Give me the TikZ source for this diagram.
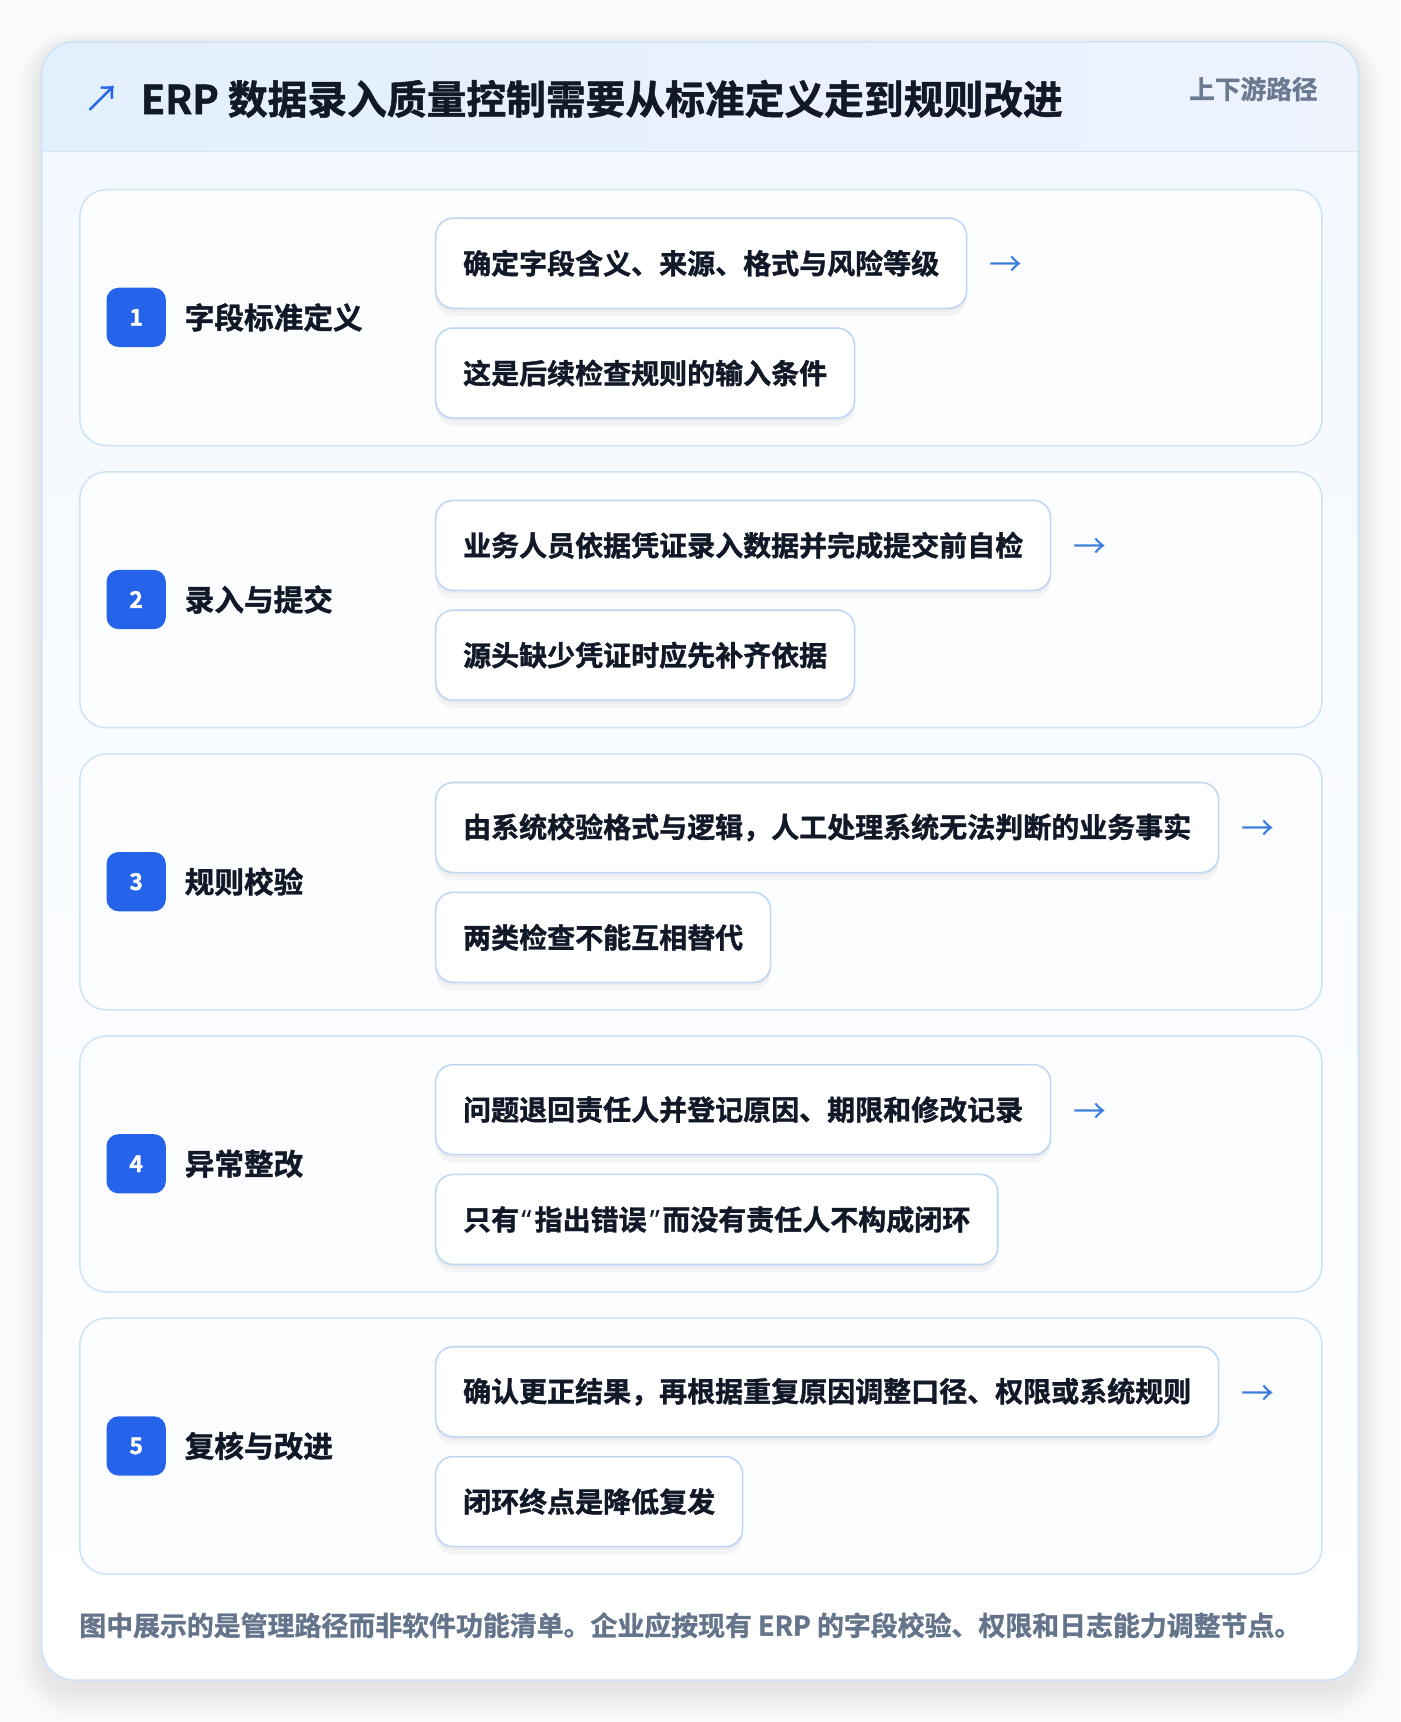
\documentclass[tikz,border=0pt]{standalone}
\usepackage{fontspec}
\setmainfont{Noto Sans CJK SC}[BoldFont={Noto Sans CJK SC Bold}, BoldFeatures={FakeBold=1.2}]
\newfontfamily\quotefont{Noto Sans}[BoldFeatures={FakeBold=1.2}]
\newfontfamily\arrowfont{Noto Sans CJK SC}
\usetikzlibrary{arrows.meta,shadows}
\definecolor{pagebg}{HTML}{FAFAFA}
\definecolor{cardline}{HTML}{CFE3F6}
\definecolor{boxline}{HTML}{BDD6F4}
\definecolor{hdrL}{HTML}{E2EFFD}
\definecolor{hdrR}{HTML}{EEF3FE}
\definecolor{hdrline}{HTML}{D3E5F7}
\definecolor{bodyT}{HTML}{F4F9FF}
\definecolor{cardfill}{HTML}{FBFDFF}
\definecolor{badgeblue}{HTML}{2563EB}
\definecolor{arrowblue}{HTML}{3B7DDD}
\definecolor{darktext}{HTML}{111827}
\definecolor{graytext}{HTML}{64748B}
\definecolor{graytwo}{HTML}{6B7A90}
\newcommand\myLq{\kern2pt{\quotefont\bfseries “}\kern3pt}
\newcommand\myRq{\kern3pt{\quotefont\bfseries ”}\kern2pt}
\tikzset{
  card/.style={draw=cardline, line width=1.4pt, fill=cardfill, rounded corners=24pt,
    minimum width=1131pt, minimum height=233pt, anchor=north west, inner sep=0pt},
  badge/.style={fill=badgeblue, rounded corners=11pt, minimum width=54pt, minimum height=54pt,
    inner sep=0pt, text=white, font=\fontsize{21}{21}\selectfont\bfseries},
  steptitle/.style={anchor=west, text=darktext, inner sep=0pt, font=\fontsize{27}{30}\selectfont\bfseries},
  pointbox/.style={draw=boxline, line width=1.4pt, fill=white, rounded corners=16pt,
    minimum height=82pt, inner xsep=25pt, inner ysep=0pt, anchor=north west, text=darktext,
    font=\fontsize{25.5}{28}\selectfont\bfseries,
    drop shadow={shadow xshift=0pt, shadow yshift=-7pt, opacity=0.035, fill=black},
    drop shadow={shadow xshift=0pt, shadow yshift=-3pt, opacity=0.03, fill=black}},
  nextarrow/.style={anchor=west, text=arrowblue, inner sep=0pt, font=\fontsize{30}{30}\arrowfont},
}
\begin{document}
\begin{tikzpicture}[x=1pt,y=-1pt]
\useasboundingbox (0,0) rectangle (1274.8,1568);
\fill[pagebg] (0,0) rectangle (1274.8,1568);
% outer shadow
\foreach \i in {1,...,10}
  \fill[black, opacity=0.008, rounded corners={(30+2*\i)*1pt}]
    (38-2*\i, 44-1.5*\i) rectangle (1237+2*\i, 1538+2.5*\i);
% outer card
\fill[white, rounded corners=30pt] (38,38) rectangle (1237,1530);
\begin{scope}
  \clip[rounded corners=30pt] (38,38) rectangle (1237,1530);
  \shade[left color=hdrL, right color=hdrR] (38,38) rectangle (1237,138);
  \shade[top color=bodyT, bottom color=white] (38,138) rectangle (1237,1530);
\end{scope}
\coordinate (hl) at (38,138);
\coordinate (hr) at (1237,138);
\draw[hdrline, line width=1.4pt] (hl) -- (hr);
\draw[cardline, line width=1.6pt, rounded corners=30pt] (38,38) rectangle (1237,1530);
% title
\node[anchor=center, text=badgeblue, inner sep=0pt, font=\fontsize{34}{34}\arrowfont] (icon) at (93,90) {↗};
\node[anchor=west, inner sep=0pt, text=darktext, font=\fontsize{36.2}{40}\selectfont\bfseries] (title) at (128,90)
  {ERP 数据录入质量控制需要从标准定义走到规则改进};
\node[anchor=east, inner sep=0pt, text=graytwo, font=\fontsize{23.4}{26}\selectfont\bfseries] (tag) at (1200,81)
  {上下游路径};
% steps
\foreach \n/\ttl/\pa/\pb [count=\k from 0] in {
  1/字段标准定义/确定字段含义、来源、格式与风险等级/这是后续检查规则的输入条件,
  2/录入与提交/业务人员依据凭证录入数据并完成提交前自检/源头缺少凭证时应先补齐依据,
  3/规则校验/由系统校验格式与逻辑，人工处理系统无法判断的业务事实/两类检查不能互相替代,
  4/异常整改/问题退回责任人并登记原因、期限和修改记录/只有\myLq 指出错误\myRq 而没有责任人不构成闭环,
  5/复核与改进/确认更正结果，再根据重复原因调整口径、权限或系统规则/闭环终点是降低复发}
{
  \pgfmathsetmacro{\top}{172+256.9*\k}
  \node[card] (card\n) at (72,\top) {};
  \node[badge] (badge\n) at (124,\top+117) {\n};
  \node[steptitle] (title\n) at (168,\top+117) {\ttl};
  \node[pointbox] (pa\n) at (396,\top+26) {\pa};
  \node[pointbox] (pb\n) at (396,\top+126) {\pb};
  \node[nextarrow] (arr\n) at ([xshift=20pt,yshift=-3pt]pa\n.east) {→};
}
% footer
\node[anchor=west, inner sep=0pt, text=graytext, font=\fontsize{24.5}{27}\selectfont\bfseries] (foot) at (72,1480)
  {图中展示的是管理路径而非软件功能清单。企业应按现有 ERP 的字段校验、权限和日志能力调整节点。};
\end{tikzpicture}
\end{document}
